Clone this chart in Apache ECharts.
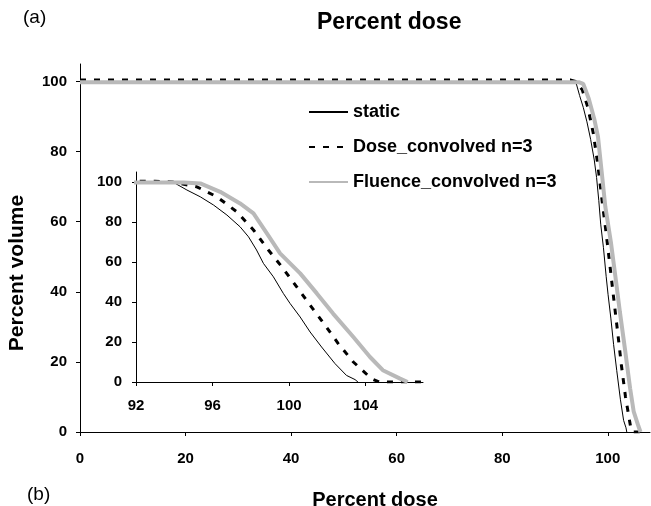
<!DOCTYPE html>
<html>
<head>
<meta charset="utf-8">
<script src="https://cdn.jsdelivr.net/npm/echarts@6/dist/echarts.min.js"></script>
<style>
html,body{margin:0;padding:0;background:#fff;}
#chart{width:651px;height:506px;}
</style>
</head>
<body>
<div id="chart"></div>
<script>
// ---- data ----
var seriesNames = ['static', 'Dose_convolved n=3', 'Fluence_convolved n=3'];

var staticX = [0, 92, 93, 94.05, 94.66, 95.36, 96.05, 96.75, 97.44, 97.88, 98.3, 98.66, 99.18, 99.7, 100.05, 100.58, 101.1, 101.7, 102.4, 103.0, 103.45, 103.6];
var staticY = [100, 100, 100, 99.3, 96, 92.6, 88.5, 83.5, 77.6, 72.6, 66, 59.3, 52.6, 44.3, 39.3, 32.5, 25, 17.5, 9.2, 3.3, 1.2, 0];

var doseX = [0, 93, 93.9, 95.18, 96.23, 97.27, 98.14, 98.92, 99.62, 100.4, 101.1, 101.88, 102.57, 103.36, 104.3, 104.7, 107];
var doseY = [100.4, 100.4, 100, 97.6, 92.6, 85.1, 76, 66, 57.6, 47.6, 38.4, 28.4, 19.2, 10, 1.7, 0, 0];

var fluenceX = [0, 93, 94.5, 95.36, 96.4, 97.44, 98.14, 98.84, 99.53, 100.58, 101.45, 102.3, 103.36, 104.23, 104.9, 105.8, 106.2];
var fluenceY = [99.8, 99.8, 99.8, 99.3, 95.1, 89.3, 84.3, 74.3, 64.3, 54.3, 44.3, 34.2, 22.5, 12.5, 5.9, 1.7, 0];

var mainXTicks = [0, 20, 40, 60, 80, 100];
var mainYTicks = [0, 20, 40, 60, 80, 100];
var insetXTicks = [92, 96, 100, 104];
var insetYTicks = [0, 20, 40, 60, 80, 100];

// ---- build ----
function pairs(xs, ys) { return xs.map(function (x, i) { return [x, ys[i]]; }); }

var FONT = 'Liberation Sans, Arial, Helvetica, sans-serif';
var styles = [
  { color: '#000', width: 1, type: 'solid' },
  { color: '#000', width: 3, type: [6, 8] },
  { color: '#b9b9b9', width: 4, type: 'solid' }
];
var dataSets = [pairs(staticX, staticY), pairs(doseX, doseY), pairs(fluenceX, fluenceY)];

function axisCommon(ticks, labelMargin, fontSize) {
  return {
    axisLine: { show: true, onZero: false, lineStyle: { color: '#000', width: 1 } },
    axisTick: { show: true, inside: false, length: 4, customValues: ticks, lineStyle: { color: '#000' } },
    axisLabel: { customValues: ticks, margin: labelMargin, color: '#000', fontWeight: 'bold', fontSize: fontSize, fontFamily: FONT },
    splitLine: { show: false }
  };
}

var series = [];
[0, 1].forEach(function (g) {
  dataSets.forEach(function (d, i) {
    series.push({
      name: seriesNames[i],
      type: 'line',
      xAxisIndex: g, yAxisIndex: g,
      data: d,
      showSymbol: false,
      symbol: 'none',
      clip: true,
      silent: true,
      lineStyle: { color: styles[i].color, width: styles[i].width, type: styles[i].type },
      itemStyle: { color: styles[i].color },
      z: 2 + i
    });
  });
});

var option = {
  backgroundColor: '#fff',
  animation: false,
  title: {
    text: 'Percent dose',
    left: 312, top: 6,
    textStyle: { fontSize: 23, fontWeight: 'bold', color: '#000', fontFamily: FONT }
  },
  legend: {
    data: seriesNames,
    orient: 'vertical',
    left: 308, top: 103,
    padding: 0,
    itemWidth: 39, itemHeight: 14, itemGap: 17,
    itemStyle: { opacity: 0 },
    textStyle: { fontSize: 18, fontWeight: 'bold', color: '#000', fontFamily: FONT, lineHeight: 14 },
    selectedMode: false
  },
  grid: [
    { left: 80, right: 1, top: 64, bottom: 74, containLabel: false, outerBoundsMode: 'none' },
    { left: 136, right: 228, top: 172, bottom: 124, containLabel: false, outerBoundsMode: 'none' }
  ],
  xAxis: [
    Object.assign({ type: 'value', gridIndex: 0, min: 0, max: 108, interval: 20,
      name: 'Percent dose', nameLocation: 'middle', nameGap: 58,
      nameTextStyle: { fontSize: 20, fontWeight: 'bold', color: '#000', fontFamily: FONT, padding: [0, 0, 0, 20] } },
      axisCommon(mainXTicks, 19, 15)),
    Object.assign({ type: 'value', gridIndex: 1, min: 92, max: 107, interval: 4 },
      axisCommon(insetXTicks, 16, 15))
  ],
  yAxis: [
    Object.assign({ type: 'value', gridIndex: 0, min: 0, max: 105, interval: 20,
      name: 'Percent volume', nameLocation: 'middle', nameGap: 52,
      nameTextStyle: { fontSize: 21, fontWeight: 'bold', color: '#000', fontFamily: FONT, padding: [0, 50, 0, 0] } },
      axisCommon(mainYTicks, 13, 15)),
    Object.assign({ type: 'value', gridIndex: 1, min: 0, max: 105, interval: 20 },
      axisCommon(insetYTicks, 14, 15))
  ],
  graphic: [
    { type: 'text', left: 23, top: 8, style: { text: '(a)', fontSize: 19, fill: '#000', fontFamily: FONT } },
    { type: 'text', left: 27, top: 485, style: { text: '(b)', fontSize: 19, fill: '#000', fontFamily: FONT } }
  ],
  series: series
};

var chart = echarts.init(document.getElementById('chart'), null, { renderer: 'canvas' });
chart.setOption(option);
</script>
</body>
</html>
